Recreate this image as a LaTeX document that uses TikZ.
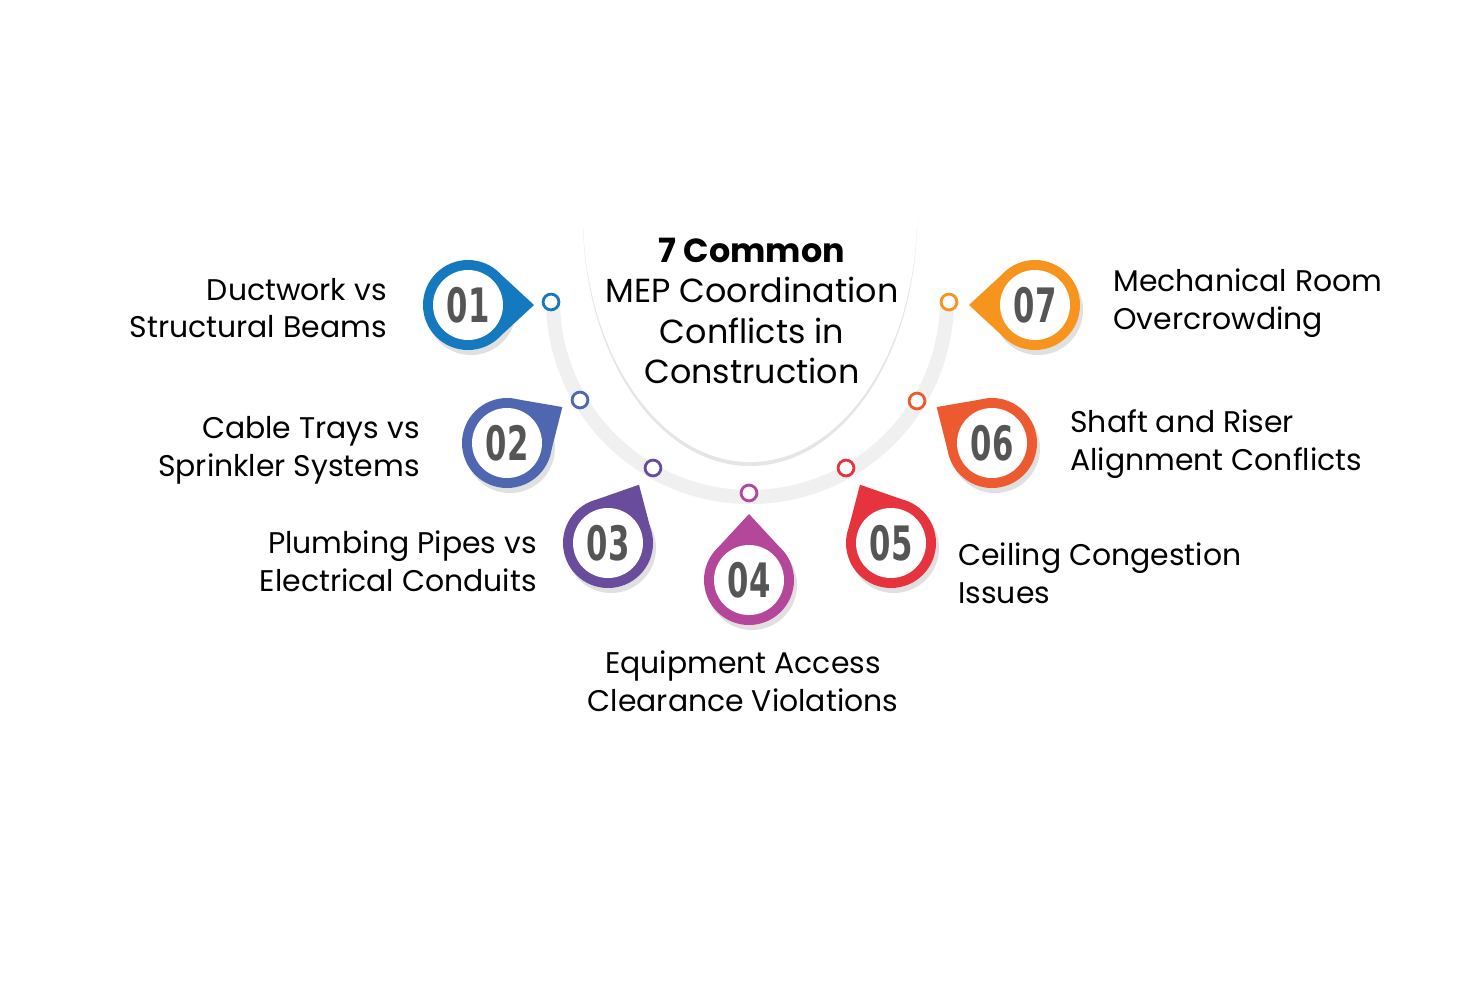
\documentclass[tikz,border=0pt]{standalone}
\usepackage{fontspec}
\setmainfont{Poppins}
\newfontfamily\numfont{DejaVu Sans Condensed}
\usetikzlibrary{calc}
\definecolor{cA}{HTML}{1479BF}
\definecolor{cB}{HTML}{4E67B0}
\definecolor{cC}{HTML}{6A4C9C}
\definecolor{cD}{HTML}{B4479A}
\definecolor{cE}{HTML}{E5343D}
\definecolor{cF}{HTML}{EE5A2F}
\definecolor{cG}{HTML}{F7941D}
\definecolor{numgray}{HTML}{555555}
\tikzset{
  item/.style={font=\fontsize{17}{21.5}\selectfont, inner sep=0pt, text=black},
  num/.style={font=\numfont\bfseries\fontsize{27}{27}\selectfont, text=numgray, xscale=0.72, inner sep=0pt},
  dot/.style={circle, draw=#1, fill=white, line width=1.6pt, minimum size=9pt, inner sep=0pt}
}
% pin: name, centre, tip angle, colour, number
\newcommand{\pin}[5]{
  \coordinate (#1) at #2;
  \fill[black!12] ($(#1)+(3,5)$) circle (45);
  \fill[#4] ($(#1)+(#3+42:45)$) -- ($(#1)+(#3:66)$) -- ($(#1)+(#3-42:45)$) -- cycle;
  \fill[#4] (#1) circle (45);
  \fill[white] (#1) circle (35);
  \node[num] (#1n) at (#1) {#5};
}
\begin{document}
\begin{tikzpicture}[x=0.02cm,y=-0.02cm]
\useasboundingbox (0,0) rectangle (1476,995);
\fill[white] (0,0) rectangle (1476,995);
% outer faint arc
\draw[black!6, line width=8pt] (553,300) arc[start angle=180, end angle=0, radius=197, y=0.02cm];
% centre half-disc
\fill[black!10] (581,218) -- (583,218) arc[start angle=180, end angle=0, x radius=167, y radius=248] -- (919,218) -- cycle;
\fill[white] (583,214) arc[start angle=180, end angle=0, x radius=167, y radius=248] -- cycle;
\node[align=center, font=\fontsize{19}{23}\selectfont, inner sep=0pt] (title) at (752,311)
  {\textbf{7 Common}\\MEP Coordination\\Conflicts in\\Construction};
% pins
\pin{p1}{(468,305)}{0}{cA}{01}
\pin{p2}{(507,443)}{-33}{cB}{02}
\pin{p3}{(608,543)}{-62}{cC}{03}
\pin{p4}{(749,580)}{-90}{cD}{04}
\pin{p5}{(891,543)}{-118}{cE}{05}
\pin{p6}{(992,443)}{-147}{cF}{06}
\pin{p7}{(1035,305)}{180}{cG}{07}
% dots on arc
\node[dot=cA] (d1) at (551,302) {};
\node[dot=cB] (d2) at (580,400) {};
\node[dot=cC] (d3) at (653,468) {};
\node[dot=cD] (d4) at (749,493) {};
\node[dot=cE] (d5) at (846,468) {};
\node[dot=cF] (d6) at (917,401) {};
\node[dot=cG] (d7) at (949,302) {};
% labels
\node[item, align=right, anchor=east] (t1) at (387,308) {Ductwork vs\\Structural Beams};
\node[item, align=right, anchor=east] (t2) at (420,450) {Cable Trays vs\\Sprinkler Systems};
\node[item, align=right, anchor=east] (t3) at (537,561) {Plumbing Pipes vs\\Electrical Conduits};
\node[item, align=center] (t4) at (743,681) {Equipment Access\\Clearance Violations};
\node[item, align=left, anchor=west] (t5) at (958,573) {Ceiling Congestion\\Issues};
\node[item, align=left, anchor=west] (t6) at (1070,444) {Shaft and Riser\\Alignment Conflicts};
\node[item, align=left, anchor=west] (t7) at (1113,303) {Mechanical Room\\Overcrowding};
\end{tikzpicture}
\end{document}
